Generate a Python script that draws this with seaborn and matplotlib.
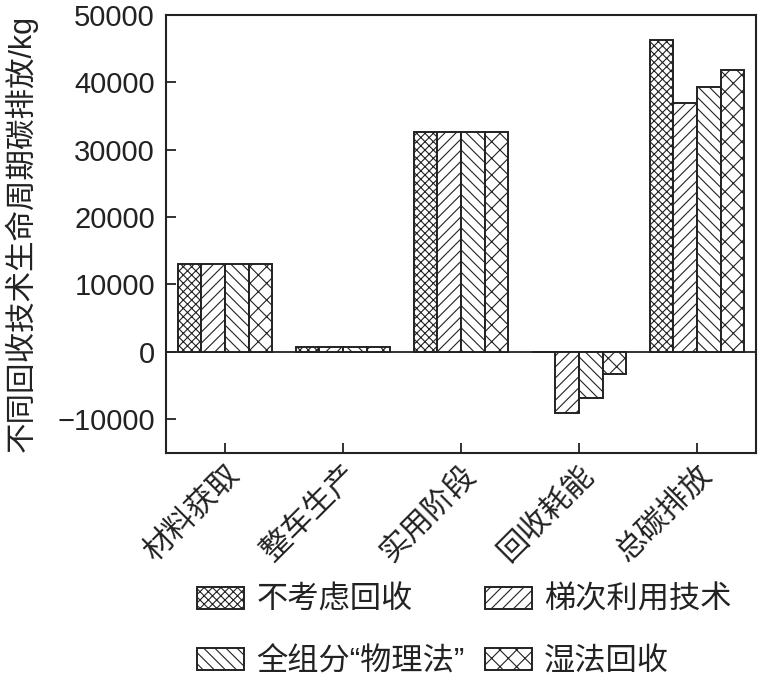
import numpy as np
import pandas as pd
import matplotlib
matplotlib.use("Agg")
import matplotlib.pyplot as plt
from matplotlib.patches import Patch
import seaborn as sns

# ============ DATA ============
stages = ["材料获取", "整车生产", "实用阶段", "回收耗能", "总碳排放"]
methods = ["不考虑回收", "梯次利用技术", "全组分“物理法”", "湿法回收"]
no_recycle = [13100, 650, 32650, 0, 46300]
cascade_use = [13100, 650, 32650, -9150, 37000]
physical = [13100, 650, 32650, -6900, 39300]
hydro = [13100, 650, 32650, -3350, 41900]

hatches = ["xxxx", "///", "\\\\\\", "xx"]

# ============ STYLE ============
sns.set_theme(style="white")
plt.rcParams["font.family"] = ["Liberation Sans", "Noto Sans CJK SC"]
plt.rcParams["hatch.color"] = "#555555"
plt.rcParams["hatch.linewidth"] = 0.8
plt.rcParams["axes.unicode_minus"] = True

df = pd.DataFrame({
    "stage": np.repeat(stages, len(methods)),
    "method": methods * len(stages),
    "value": np.array([no_recycle, cascade_use, physical, hydro]).T.ravel(),
})

fig = plt.figure(figsize=(7.69, 6.79), dpi=100)
ax = fig.add_axes([0.216, 0.333, 0.767, 0.645])

sns.barplot(data=df, x="stage", y="value", hue="method", hue_order=methods,
            order=stages, palette=["white"] * 4, edgecolor="#222222",
            linewidth=1.4, width=0.8, legend=False, ax=ax)

# hatch each hue group
for container, h in zip(ax.containers, hatches):
    for bar in container:
        bar.set_hatch(h)

ax.axhline(0, color="#222222", linewidth=1.3, zorder=0.5)

ax.set_xlim(-0.5, 4.5)
ax.set_ylim(-15000, 50000)
ax.set_yticks([-10000, 0, 10000, 20000, 30000, 40000, 50000])
ax.tick_params(axis="both", direction="in", length=7, width=1.3,
               color="#222222", labelcolor="#222222")
ax.tick_params(axis="y", labelsize=21, left=True, pad=8)
ax.tick_params(axis="x", labelsize=22, bottom=True, pad=5)
for lab in ax.get_xticklabels():
    lab.set_rotation(45)
    lab.set_ha("right")
    lab.set_va("top")
    lab.set_rotation_mode("anchor")

for s in ax.spines.values():
    s.set_color("#222222")
    s.set_linewidth(1.5)

ax.set_xlabel("")
ax.set_ylabel("不同回收技术生命周期碳排放/kg", fontsize=22, color="#222222")
ax.yaxis.set_label_coords(-0.218, 0.5)

# legend filled row by row like the reference
order = [0, 2, 1, 3]
handles = [Patch(facecolor="white", edgecolor="#222222", hatch=hatches[i],
                 linewidth=1.4) for i in order]
labels = [methods[i] for i in order]
fig.legend(handles, labels, loc="upper left", ncol=2, frameon=False,
           bbox_to_anchor=(0.256, 0.137), fontsize=22.5, handlelength=1.5,
           handleheight=0.7, handletextpad=0.4, columnspacing=0.65,
           labelspacing=1.0, borderpad=0, borderaxespad=0,
           labelcolor="#222222")

fig.savefig("out.png", dpi=100)
